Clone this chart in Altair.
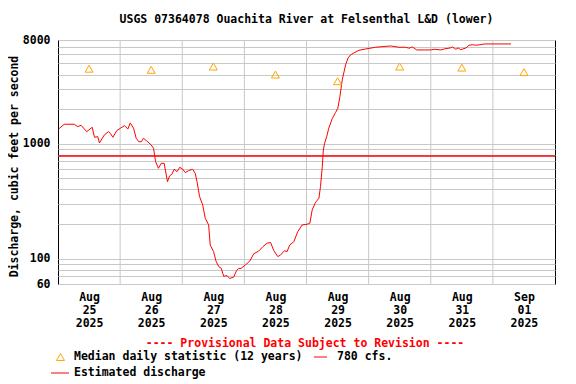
import json
import altair as alt
import pandas as pd

# ---- data ----
hours = [0.25, 2.4, 6.3, 7.6, 8.9, 11.1, 13.2, 14.1, 15.4, 16.0,
         17.9, 19.5, 20.2, 21.2, 22.7, 24.1, 25.7, 27.0, 27.9, 29.2,
         30.2, 31.2, 32.2, 33.0, 34.3, 36.0, 36.9, 37.7, 38.8, 39.9,
         41.0, 42.3, 43.1, 44.0, 44.9, 46.0, 47.0, 48.1, 49.2, 50.4,
         52.0, 53.0, 53.7, 54.7, 55.9, 56.9, 58.2, 58.8, 60.1, 61.1,
         62.1, 63.1, 64.0, 65.3, 66.3, 67.9, 68.9, 69.8, 70.7, 72.4,
         74.1, 75.6, 77.5, 79.2, 80.8, 82.1, 83.4, 84.9, 85.9, 87.5,
         88.5, 89.5, 91.1, 92.6, 94.3, 96.3, 97.3, 98.2, 99.5, 100.8,
         101.4, 102.1, 102.5, 103.0, 103.8, 104.6, 106.0, 107.2, 108.1, 108.9,
         109.8, 111.1, 112.0, 113.0, 114.3, 116.3, 118.9, 122.7, 128.5, 131.7,
         134.3, 135.6, 136.9, 138.6, 144.0, 145.3, 147.9, 149.2, 151.5, 152.4,
         153.7, 154.6, 155.6, 157.6, 158.8, 160.2, 161.4, 163.4, 164.7, 175.0]
cfs = [1344, 1477, 1477, 1407, 1447, 1273, 1390, 1138, 1151, 1015,
       1191, 1273, 1233, 1138, 1299, 1363, 1436, 1344, 1516, 1363,
       1115, 1041, 1041, 1115, 1056, 975, 912, 698, 611, 675,
       675, 467, 524, 542, 599, 571, 623, 603, 559, 582,
       599, 553, 467, 346, 293, 224, 196, 131, 115, 94,
       85, 82, 70, 71, 67, 69, 78, 82, 82, 88,
       95, 110, 116, 127, 136, 138, 117, 104, 107, 117,
       115, 131, 140, 171, 196, 199, 203, 265, 309, 335,
       423, 631, 882, 1009, 1151, 1363, 1666, 1864, 2035, 2569,
       3591, 4851, 5548, 5929, 6171, 6514, 6686, 6918, 7101, 6918,
       6918, 6781, 6960, 6553, 6553, 6645, 6553, 6686, 6822, 6960,
       6645, 6822, 6593, 6822, 7201, 7288, 7201, 7288, 7392, 7392]

median_hours = [12, 36, 60, 84, 108, 132, 156, 180]
median_cfs = [4500, 4400, 4700, 4000, 3500, 4700, 4600, 4200]
threshold_cfs = [780]
day_lines = [24, 48, 72, 96, 120, 144, 168]
day_labels = ["Aug 25 2025", "Aug 26 2025", "Aug 27 2025", "Aug 28 2025",
              "Aug 29 2025", "Aug 30 2025", "Aug 31 2025", "Sep 01 2025"]
y_grid = [60, 70, 80, 90, 100, 200, 300, 400, 500, 600, 700, 800, 900,
          1000, 2000, 3000, 4000, 5000, 6000, 7000, 8000]
y_labels = [60, 100, 1000, 8000]

title_text = "USGS 07364078 Ouachita River at Felsenthal L&D (lower)"
provisional_text = "---- Provisional Data Subject to Revision ----"
median_text = "Median daily statistic (12 years)"
threshold_text = "780 cfs."
estimated_text = "Estimated discharge"

FONT = "DejaVu Sans Mono"
FS = 11.5
W, H = 497, 244
X0, Y0 = 58, 40
GRID = "#c8c8c8"

xs = alt.Scale(domain=[0, 192], nice=False, zero=False)
ys = alt.Scale(type="log", domain=[60, 8000], nice=False)

x_label_expr = "split(" + json.dumps(day_labels) + "[floor(datum.value/24)], ' ')"
y_label_expr = ("indexof(" + json.dumps(y_labels) +
                ", datum.value) >= 0 ? format(datum.value, 'd') : ''")

x_axis = alt.Axis(values=median_hours, labelExpr=x_label_expr, grid=False,
                  ticks=False, domain=False, labelFont=FONT, labelFontSize=FS,
                  labelFontWeight="bold", labelColor="black", labelLineHeight=13,
                  labelBaseline="top", labelPadding=7, labelFlush=False,
                  labelOverlap=False, title=None)
y_axis = alt.Axis(values=y_grid, labelExpr=y_label_expr, grid=True,
                  gridColor=GRID, gridWidth=1, ticks=False, domain=False,
                  labelFont=FONT, labelFontSize=FS, labelFontWeight="bold",
                  labelColor="black", labelPadding=8, labelOverlap=False,
                  labelFlush=False, labelBaseline="middle",
                  title="Discharge, cubic feet per second",
                  titleFont=FONT, titleFontSize=FS, titleFontWeight="bold",
                  titleColor="black", titleAngle=270, titleX=-41, titleY=126,
                  titleAlign="center", titleBaseline="alphabetic")

def X():
    return alt.X("h:Q", scale=xs, axis=x_axis)

def Y():
    return alt.Y("v:Q", scale=ys, axis=y_axis)

flow = pd.DataFrame({"h": hours, "v": cfs})
med = pd.DataFrame({"h": median_hours, "v": median_cfs})
thr = pd.DataFrame({"v": threshold_cfs})
days = pd.DataFrame({"h": day_lines})

grid_v = alt.Chart(days).mark_rule(color=GRID, strokeWidth=1).encode(x=X())
thr_rule = alt.Chart(thr).mark_rule(color="#ff0000", strokeWidth=1.5).encode(y=Y())
line = alt.Chart(flow).mark_line(color="#ff0000", strokeWidth=1, clip=True).encode(x=X(), y=Y())
pts = alt.Chart(med).mark_point(shape="triangle-up", size=64, filled=False,
                                color="#ffa500", strokeWidth=1, opacity=1).encode(x=X(), y=Y())

def txt(s, x, y, color="black", align="left"):
    return alt.Chart(pd.DataFrame({"t": [s]})).mark_text(
        font=FONT, fontSize=FS, fontWeight="bold", color=color, align=align,
        baseline="middle").encode(x=alt.value(x - X0), y=alt.value(y - Y0), text="t:N")

def seg(x1, x2, y):
    return alt.Chart(pd.DataFrame({"t": [0]})).mark_rule(color="#ff0000", strokeWidth=1).encode(
        x=alt.value(x1 - X0), x2=alt.value(x2 - X0), y=alt.value(y - Y0))

leg_tri = alt.Chart(pd.DataFrame({"t": [0]})).mark_point(
    shape="triangle-up", size=64, filled=False, color="#ffa500", strokeWidth=1, opacity=1
).encode(x=alt.value(60.5 - X0), y=alt.value(357 - Y0))

chart = alt.layer(
    grid_v, thr_rule, line, pts,
    txt(provisional_text, 305, 344, color="#ff0000", align="center"),
    leg_tri,
    txt(median_text, 74, 357),
    seg(314, 327, 357),
    txt(threshold_text, 337, 357),
    seg(51, 69, 373),
    txt(estimated_text, 74, 373),
).properties(
    width=W, height=H,
    title=alt.TitleParams(text=title_text, font=FONT, fontSize=FS, fontWeight="bold",
                          color="black", anchor="middle", offset=9),
    padding={"left": 50, "top": 32, "right": 13, "bottom": 96},
    autosize=alt.AutoSizeParams(type="none"),
).configure_view(stroke="black", strokeWidth=1)

chart.save("out.html", embed_options={"renderer": "svg", "actions": False})
